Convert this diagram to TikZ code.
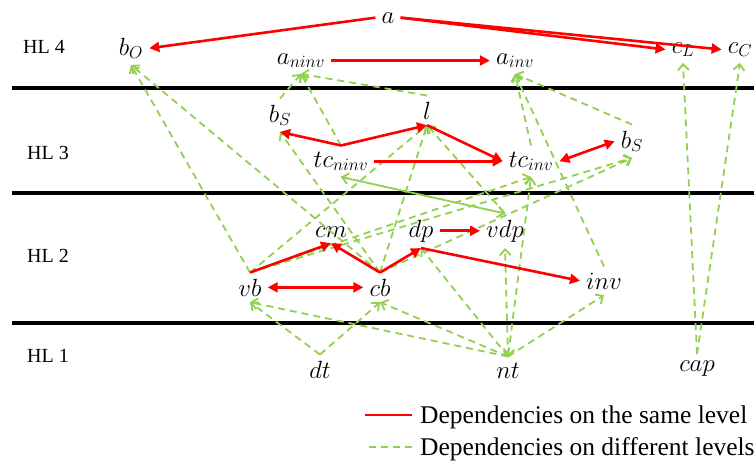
\documentclass[tikz,border=0pt]{standalone}
\usepackage{fontspec}
\setmainfont{Liberation Serif}
\DeclareMathSizes{25}{25}{19}{15}
\usetikzlibrary{arrows.meta}
\definecolor{lgreen}{RGB}{146,208,80}
\tikzset{
  var/.style={font=\fontsize{25}{28}\selectfont, inner sep=6pt, anchor=base},
  hl/.style={font=\fontsize{20}{23}\selectfont, anchor=base},
  legtext/.style={font=\fontsize{25.5}{28}\selectfont, anchor=base west, inner sep=0pt},
  same/.style={draw=red, line width=2.6pt, -{Triangle[length=10pt,width=10pt]}},
  samebi/.style={draw=red, line width=2.6pt, {Triangle[length=10pt,width=10pt]}-{Triangle[length=10pt,width=10pt]}},
  cross/.style={draw=lgreen, line width=1.8pt, dash pattern=on 7pt off 5pt,
    -{Straight Barb[length=6pt,width=11pt,line width=1.8pt]}},
  crossbi/.style={cross, {Straight Barb[length=6pt,width=11pt,line width=1.8pt]}-{Straight Barb[length=6pt,width=11pt,line width=1.8pt]}},
  level/.style={line width=4pt, black}
}
\begin{document}
\begin{tikzpicture}[x=1pt,y=-1pt]
\useasboundingbox (0,0) rectangle (754,463);

% level separators
\draw[level] (12,88) -- (754,88);
\draw[level] (12,193) -- (754,193);
\draw[level] (12,323) -- (754,323);

% level labels
\node[hl] (h4) at (44,53) {HL 4};
\node[hl] (h3) at (48,159) {HL 3};
\node[hl] (h2) at (48,262) {HL 2};
\node[hl] (h1) at (48,362) {HL 1};

% variables, HL 4
\node[var] (a)     at (388,23)  {$a$};
\node[var] (bO)    at (131,55)  {$b_O$};
\node[var] (aninv) at (301,64)  {$a_{ninv}$};
\node[var] (ainv)  at (515,64)  {$a_{inv}$};
\node[var] (cL)    at (683,53)  {$c_L$};
\node[var] (cC)    at (740,53)  {$c_C$};
% HL 3
\node[var] (bSL)   at (280,122) {$b_S$};
\node[var] (l)     at (427,119) {$l$};
\node[var] (tcninv) at (341,167) {$tc_{ninv}$};
\node[var] (tcinv) at (531,167) {$tc_{inv}$};
\node[var] (bSR)   at (632,148) {$b_S$};
% HL 2
\node[var] (cm)    at (331,237) {$cm$};
\node[var] (dp)    at (421,237) {$dp$};
\node[var] (vdp)   at (505,237) {$vdp$};
\node[var] (vb)    at (250,296) {$vb$};
\node[var] (cb)    at (380,296) {$cb$};
\node[var] (inv)   at (604,289) {$inv$};
% HL 1
\node[var] (dt)    at (320,378) {$dt$};
\node[var] (nt)    at (508,378) {$nt$};
\node[var] (cap)   at (697,371) {$cap$};

% dependencies across levels
\draw[cross] (vb.north) -- (bO.south);
\draw[cross] (cb.north) -- (bO.south);
\draw[cross] (bSL.north) -- (aninv.south);
\draw[cross] (tcninv.north) -- (aninv.south);
\draw[cross] (l.north) -- (aninv.south);
\draw[cross] (tcinv.north) -- (ainv.south);
\draw[cross] (inv.north) -- (ainv.south);
\draw[cross] (bSR.north) -- (ainv.south);
\draw[cross] (cap.north) -- (cL.south);
\draw[cross] (cap.north) -- (cC.south);
\draw[cross] (cb.north) -- (bSL.south);
\draw[cross] (vb.north) -- (l.south);
\draw[cross] (cb.north) -- (l.south);
\draw[cross] (vdp.north) -- (l.south);
\draw[cross] (vb.north) -- (tcinv.south);
\draw[cross] (vb.north) -- (bSR.south);
\draw[cross] (cb.north) -- (bSR.south);
\draw[cross] (vdp.north) -- (tcninv.south);
\draw[cross] (tcninv.south) -- (vdp.north);
\draw[cross] (dt.north) -- (vb.south);
\draw[cross] (dt.north) -- (cb.south);
\draw[cross] (nt.north) -- (vb.south);
\draw[cross] (nt.north) -- (cb.south);
\draw[cross] (nt.north) -- (dp.south);
\draw[cross] (nt.north) -- (vdp.south);
\draw[crossbi] (nt.north) -- (tcinv.south);
\draw[cross] (nt.north) -- (inv.south);

% dependencies on the same level
\draw[same] (a.west) -- (bO.east);
\draw[same] (a.east) -- (cL.west);
\draw[same] (a.east) -- (cC.west);
\draw[same] (aninv.east) -- (ainv.west);
\draw[same] (tcninv.north) -- (bSL.south);
\draw[same] (tcninv.north) -- (l.south);
\draw[same] (l.south) -- (tcinv.west);
\draw[same] (tcninv.east) -- (tcinv.west);
\draw[samebi] (tcinv.east) -- (bSR.west);
\draw[same] (vb.north) -- (cm.south);
\draw[same] (cb.north) -- (cm.south);
\draw[same] (cb.north) -- (dp.south);
\draw[same] (dp.east) -- (vdp.west);
\draw[same] (dp.south) -- (inv.west);
\draw[samebi] (vb.east) -- (cb.west);

% legend
\node[legtext] (leg1) at (420,423) {Dependencies on the same level};
\node[legtext] (leg2) at (420,455) {Dependencies on different levels};
\draw[draw=red, line width=2.6pt] ([xshift=-8pt,yshift=8pt]leg1.base west) -- ++(-47pt,0);
\draw[draw=lgreen, line width=1.8pt, dash pattern=on 7pt off 5pt] ([xshift=-8pt,yshift=8pt]leg2.base west) -- ++(-47pt,0);
\end{tikzpicture}
\end{document}
